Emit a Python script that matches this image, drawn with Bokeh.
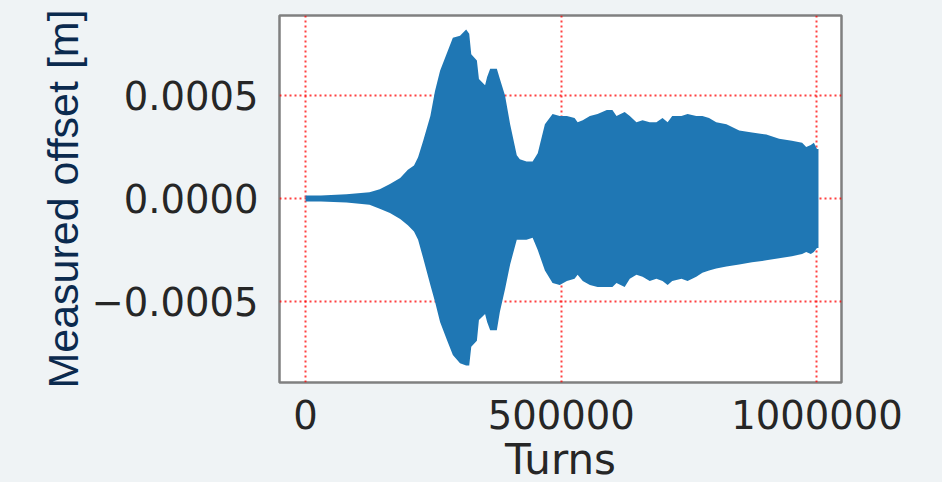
from bokeh.plotting import figure
from bokeh.models import Range1d, FixedTicker
from bokeh.embed import file_html
from bokeh.resources import INLINE

# ---- data ----
turns = [0, 30e3, 80e3, 125e3, 145e3, 165e3, 185e3, 200e3, 212e3, 220e3,
         230e3, 244e3, 253e3, 263e3, 277e3, 288e3, 302e3, 314e3, 320e3, 324e3,
         335e3, 339e3, 351e3, 355e3, 361e3, 374e3, 380e3, 390e3, 400e3, 413e3,
         419e3, 432e3, 444e3, 454e3, 468e3, 483e3, 497e3, 511e3, 526e3, 532e3,
         542e3, 556e3, 571e3, 589e3, 600e3, 608e3, 624e3, 634e3, 647e3, 659e3,
         673e3, 686e3, 698e3, 708e3, 717e3, 735e3, 747e3, 764e3, 776e3, 789e3,
         803e3, 823e3, 848e3, 873e3, 901e3, 926e3, 951e3, 971e3, 979e3, 988e3,
         994e3, 1000e3, 1003e3]

upper = [0.15, 0.15, 0.2, 0.3, 0.45, 0.7, 1.0, 1.4, 1.6, 2.0,
         2.8, 4.0, 5.2, 6.2, 7.1, 7.8, 7.9, 8.2, 8.0, 7.0,
         6.7, 5.8, 5.5, 5.9, 6.3, 6.3, 5.8, 5.0, 3.6, 2.1,
         1.9, 1.8, 1.8, 2.2, 3.6, 4.1, 4.0, 4.0, 3.9, 3.7,
         3.8, 4.0, 4.1, 4.3, 4.3, 4.0, 4.2, 4.0, 3.7, 3.8,
         3.7, 3.7, 3.9, 3.7, 4.0, 4.0, 4.1, 4.0, 4.0, 3.9,
         3.7, 3.6, 3.3, 3.2, 3.1, 2.9, 2.8, 2.7, 2.5, 2.6,
         2.7, 2.4, 2.4]

lower = [-0.15, -0.15, -0.2, -0.3, -0.5, -0.7, -1.0, -1.3, -1.6, -2.0,
         -2.9, -4.2, -5.0, -6.0, -6.9, -7.6, -8.0, -8.1, -8.1, -7.2,
         -6.9, -5.9, -5.6, -6.0, -6.4, -6.4, -5.5, -4.4, -3.2, -2.0,
         -2.0, -2.0, -1.9, -2.5, -3.5, -4.1, -4.2, -4.0, -3.9, -3.7,
         -4.0, -4.2, -4.3, -4.3, -4.3, -4.1, -4.3, -3.9, -3.7, -3.8,
         -4.0, -3.9, -4.0, -4.2, -4.0, -3.9, -4.0, -3.8, -3.6, -3.5,
         -3.4, -3.3, -3.2, -3.1, -3.0, -2.9, -2.8, -2.7, -2.6, -2.7,
         -2.6, -2.4, -2.4]
scale = 1e-4  # envelope values are in units of 1e-4 m

x_ticks = [0, 500000, 1000000]
x_tick_labels = ["0", "500000", "1000000"]
y_ticks = [-0.0005, 0.0, 0.0005]
y_tick_labels = ["\u22120.0005", "0.0000", "0.0005"]

x_label = "Turns"
y_label = "Measured offset [m]"

# ---- figure ----
BG = "#eff3f5"
FONT = "DejaVu Sans"

p = figure(width=942, height=490, output_backend="svg", toolbar_location=None,
           x_range=Range1d(-51000, 1048000),
           y_range=Range1d(-0.000893, 0.000888),
           min_border_left=279, min_border_right=101,
           min_border_top=15, min_border_bottom=108)

p.background_fill_color = "white"
p.border_fill_color = BG
p.outline_line_color = "#808080"
p.outline_line_width = 2.5

p.varea(x=turns, y1=[v * scale for v in lower], y2=[v * scale for v in upper],
        fill_color="#1f77b4")

# axes
p.xaxis.ticker = FixedTicker(ticks=x_ticks, minor_ticks=[])
p.yaxis.ticker = FixedTicker(ticks=y_ticks, minor_ticks=[])
p.xaxis.major_label_overrides = dict(zip(x_ticks, x_tick_labels))
p.yaxis.major_label_overrides = dict(zip(y_ticks, y_tick_labels))

for ax in (p.xaxis[0], p.yaxis[0]):
    ax.axis_line_color = None
    ax.major_tick_line_color = None
    ax.minor_tick_line_color = None
    ax.major_label_text_font = FONT
    ax.major_label_text_font_size = "38.5px"
    ax.major_label_text_color = "#262626"
    ax.axis_label_text_font_style = "normal"

p.xaxis.major_label_standoff = 11
p.yaxis.major_label_standoff = 15

p.xaxis.axis_label = x_label
p.xaxis.axis_label_text_font = FONT
p.xaxis.axis_label_text_font_size = "42px"
p.xaxis.axis_label_text_color = "#262626"
p.xaxis.axis_label_standoff = 3

p.yaxis.axis_label = y_label
p.yaxis.axis_label_text_font = "Liberation Sans"
p.yaxis.axis_label_text_font_size = "43px"
p.yaxis.axis_label_text_color = "#0b2a4e"
p.yaxis.axis_label_standoff = 2

# grid
for g in (p.xgrid[0], p.ygrid[0]):
    g.grid_line_color = "#ff0000"
    g.grid_line_alpha = 0.75
    g.grid_line_width = 2
    g.grid_line_dash = "2 3"
p.xgrid.ticker = FixedTicker(ticks=x_ticks)
p.ygrid.ticker = FixedTicker(ticks=y_ticks)

html = file_html(p, INLINE)
html = html.replace(
    "<head>",
    "<head><style>html,body{background:%s;overflow:hidden;}</style>" % BG, 1)
open("out.html", "w").write(html)
